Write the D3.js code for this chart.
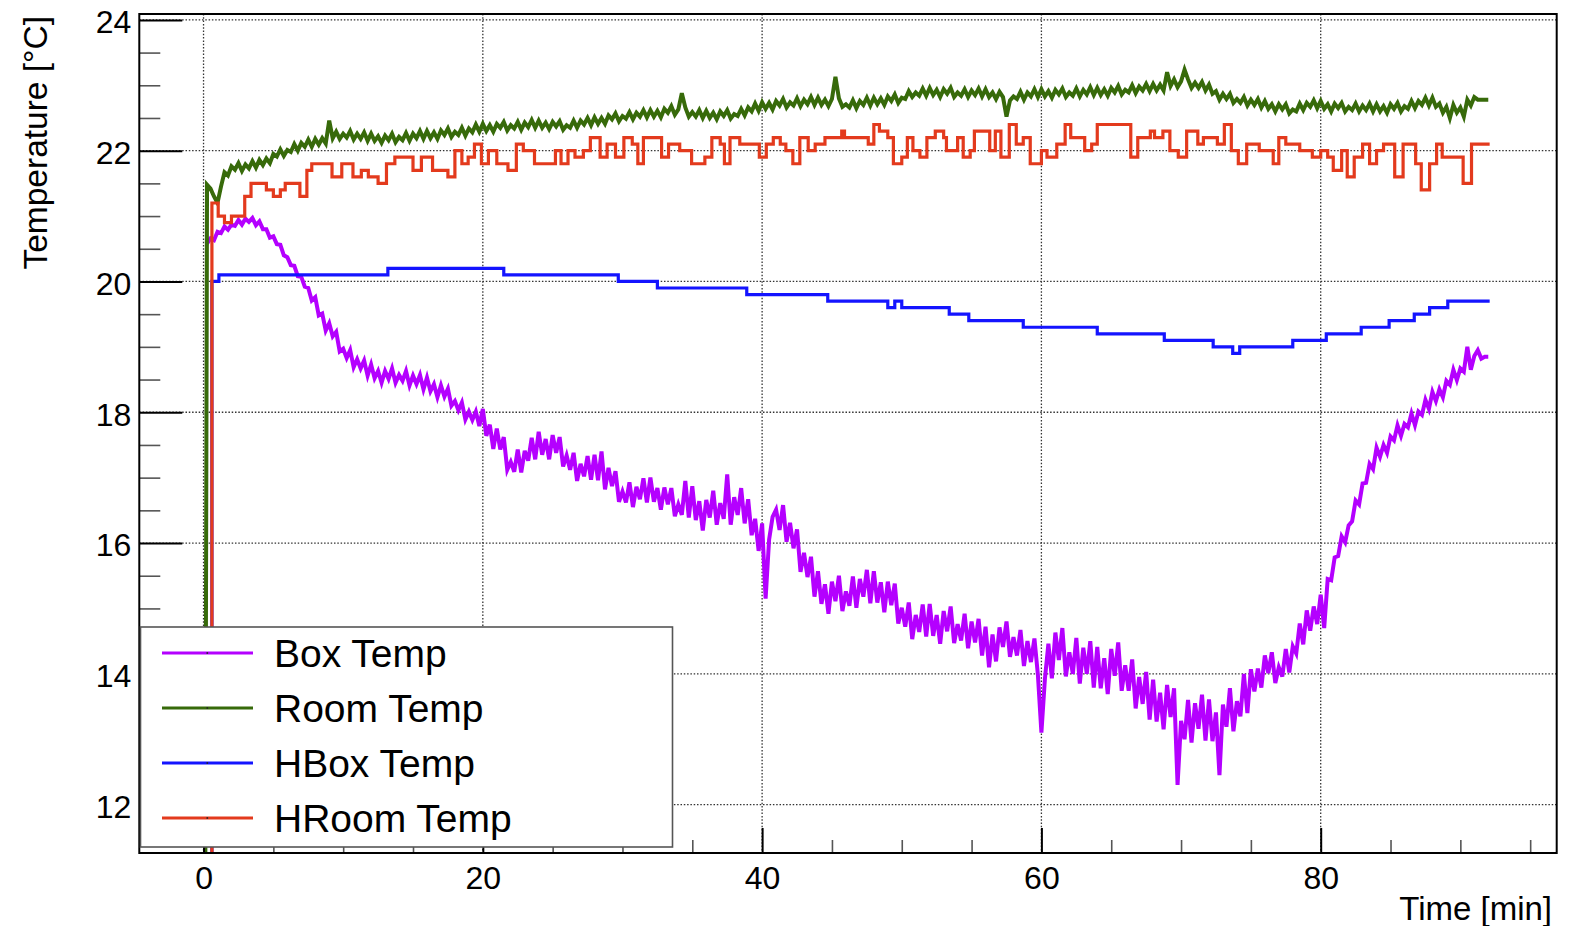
<!DOCTYPE html>
<html>
<head>
<meta charset="utf-8">
<script src="https://cdn.jsdelivr.net/npm/d3@7"></script>
<style>
body { margin: 0; background: #fff; }
</style>
</head>
<body>
<script>
const w = 1580, h = 926;
const font = '"Liberation Sans", Arial, Helvetica, sans-serif';

// sampled every quarter minute, starting at t = 0
const sampleStep = 0.25;

const boxTemp = [null,20.58,20.66,20.63,20.76,20.74,20.84,20.79,20.87,20.85,20.94,20.87,20.96,20.91,20.97,20.86,
20.92,20.8,20.8,20.67,20.69,20.57,20.56,20.4,20.37,20.25,20.24,20.08,20.07,19.92,19.9,19.71,
19.76,19.48,19.51,19.25,19.36,19.16,19.23,18.93,18.97,18.83,18.95,18.69,18.81,18.67,18.79,18.56,
18.73,18.52,18.63,18.45,18.63,18.51,18.67,18.45,18.57,18.48,18.63,18.41,18.56,18.43,18.57,18.35,
18.53,18.32,18.43,18.23,18.41,18.24,18.36,18.1,18.17,18.03,18.15,17.89,18.01,17.88,18.01,17.79,
18.05,17.64,17.81,17.44,17.75,17.43,17.62,17.12,17.24,17.09,17.43,17.08,17.41,17.26,17.61,17.28,
17.7,17.35,17.59,17.28,17.65,17.38,17.62,17.17,17.34,17.12,17.38,16.95,17.21,17.02,17.33,16.97,
17.35,16.96,17.4,16.82,17.15,16.87,17.1,16.63,16.79,16.62,16.93,16.55,16.86,16.67,16.99,16.62,
17.0,16.63,16.84,16.51,16.85,16.59,16.84,16.41,16.59,16.43,16.95,16.39,16.87,16.35,16.64,16.19,
16.66,16.39,16.8,16.28,16.61,16.37,17.05,16.28,16.7,16.43,16.84,16.3,16.67,16.12,16.37,15.88,
16.3,15.15,16.05,16.4,16.51,16.2,16.58,16.02,16.31,15.92,16.21,15.56,15.85,15.48,15.79,15.18,
15.57,15.07,15.37,14.92,15.41,15.11,15.5,14.96,15.26,15.04,15.49,15.01,15.45,15.18,15.59,15.08,
15.57,15.09,15.4,14.94,15.41,15.05,15.38,14.77,15.01,14.72,15.09,14.53,14.9,14.64,15.06,14.57,
15.07,14.58,14.9,14.46,14.96,14.65,15.03,14.47,14.76,14.51,14.92,14.39,14.8,14.48,14.84,14.28,
14.72,14.1,14.6,14.19,14.71,14.41,14.8,14.26,14.56,14.28,14.67,14.12,14.5,14.18,14.54,13.98,
13.1,13.92,14.46,13.93,14.63,14.21,14.7,13.96,14.33,14.0,14.55,13.85,14.4,14.0,14.5,13.79,
14.41,13.78,14.24,13.69,14.38,13.97,14.48,13.74,14.13,13.74,14.22,13.47,13.95,13.54,14.03,13.3,
13.91,13.27,13.71,13.15,13.83,13.34,13.78,12.3,13.28,13.0,13.6,12.95,13.55,13.16,13.68,12.98,
13.61,12.97,13.41,12.45,13.53,13.19,13.78,13.12,13.58,13.35,14.0,13.4,
14.07,13.73,14.08,13.79,14.28,14.01,14.33,13.86,14.1,13.96,14.38,14.02,14.42,14.31,14.77,14.45,
14.97,14.66,15.03,14.76,15.21,14.7,15.45,15.43,15.78,15.8,16.1,16.01,16.27,16.33,16.65,16.59,
16.91,16.92,17.21,17.13,17.46,17.32,17.5,17.38,17.63,17.57,17.8,17.64,17.82,17.77,17.98,17.8,
18.01,17.96,18.19,18.05,18.31,18.17,18.35,18.23,18.48,18.42,18.65,18.49,18.67,18.62,19.0,18.65,
18.86,18.95,18.82,18.85,18.85];

const roomTemp = [0,21.48,21.42,21.3,21.2,21.45,21.67,21.62,21.76,21.71,21.81,21.69,21.79,21.73,21.84,21.74,
21.86,21.78,21.88,21.81,21.95,21.91,22.02,21.92,22.01,21.98,22.1,22.0,22.12,22.06,22.17,22.06,
22.18,22.09,22.19,22.11,22.46,22.19,22.29,22.18,22.26,22.2,22.3,22.17,22.26,22.18,22.28,22.15,
22.26,22.15,22.22,22.12,22.23,22.16,22.26,22.13,22.21,22.16,22.27,22.15,22.26,22.19,22.3,22.18,
22.3,22.19,22.28,22.18,22.31,22.24,22.34,22.21,22.29,22.24,22.35,22.23,22.34,22.28,22.4,22.29,
22.41,22.3,22.39,22.29,22.41,22.35,22.44,22.31,22.39,22.34,22.44,22.32,22.43,22.36,22.47,22.35,
22.46,22.35,22.43,22.33,22.44,22.37,22.45,22.32,22.39,22.35,22.46,22.35,22.46,22.4,22.5,22.39,
22.51,22.41,22.5,22.41,22.54,22.48,22.57,22.45,22.53,22.49,22.59,22.48,22.58,22.52,22.62,22.51,
22.62,22.52,22.61,22.51,22.64,22.58,22.68,22.55,22.63,22.88,22.66,22.52,22.59,22.52,22.62,22.5,
22.61,22.5,22.58,22.48,22.6,22.53,22.62,22.49,22.56,22.53,22.64,22.54,22.66,22.6,22.72,22.61,
22.74,22.64,22.73,22.63,22.76,22.69,22.79,22.66,22.74,22.69,22.8,22.68,22.78,22.71,22.82,22.7,
22.81,22.7,22.78,22.68,22.79,23.13,22.8,22.67,22.71,22.66,22.77,22.65,22.76,22.7,22.81,22.69,
22.81,22.71,22.8,22.7,22.83,22.76,22.86,22.73,22.81,22.79,22.91,22.82,22.89,22.84,22.95,22.84,
22.96,22.85,22.93,22.82,22.94,22.87,22.96,22.82,22.89,22.84,22.94,22.82,22.92,22.85,22.95,22.83,
22.94,22.82,22.89,22.79,22.9,22.82,22.52,22.77,22.83,22.79,22.9,22.78,22.89,22.83,22.94,22.82,
22.94,22.83,22.91,22.81,22.93,22.86,22.95,22.82,22.89,22.84,22.95,22.83,22.93,22.86,22.97,22.85,
22.96,22.85,22.94,22.84,22.96,22.89,22.99,22.86,22.93,22.89,23.0,22.88,22.98,22.92,23.02,22.91,
23.02,22.92,23.01,22.92,23.2,22.99,23.09,22.97,23.06,23.24,23.09,22.96,23.04,22.96,23.05,22.92,
23.01,22.87,22.91,22.78,22.87,22.79,22.87,22.73,22.79,22.73,22.82,22.69,22.78,22.7,22.79,22.66,
22.76,22.64,22.71,22.6,22.71,22.63,22.71,22.57,22.63,22.6,22.72,22.62,22.73,22.67,22.77,22.65,
22.76,22.64,22.71,22.6,22.72,22.65,22.73,22.6,22.67,22.62,22.72,22.6,22.69,22.62,22.72,22.6,
22.71,22.6,22.68,22.58,22.71,22.64,22.73,22.6,22.68,22.64,22.76,22.65,22.76,22.7,22.81,22.69,
22.81,22.67,22.72,22.58,22.67,22.5,22.7,22.58,22.66,22.52,22.78,22.69,22.82,22.78,22.78,22.78,
22.78];

// heater readings change in 0.1 degree steps: time of each change and new value
const hboxTime = [0,0.6,1.1,13.2,21.5,29.7,32.5,38.9,44.7,49.0,49.5,50.0,53.4,54.8,58.7,64.0,68.8,72.3,73.7,74.2,78.0,80.4,82.9,84.9,86.7,87.8,89.1,92.1];
const hboxTemp = [0,20.0,20.1,20.2,20.1,20.0,19.9,19.8,19.7,19.6,19.7,19.6,19.5,19.4,19.3,19.2,19.1,19.0,18.9,19.0,19.1,19.2,19.3,19.4,19.5,19.6,19.7,19.7];

const hroomTime = [0,0.6,1.05,1.5,2.0,2.95,3.4,4.5,5.0,5.5,5.85,6.9,7.4,7.75,9.2,9.9,10.7,11.3,11.8,12.5,
13.1,13.7,15.0,15.6,16.4,17.5,18.0,18.5,18.95,19.4,19.9,20.4,21.0,21.8,22.4,22.9,23.7,25.2,25.6,26.1,
26.6,27.2,27.7,28.4,28.9,29.5,30.1,30.7,31.1,31.5,32.8,33.3,34.1,34.95,35.9,36.4,37.0,37.3,37.7,38.4,
39.8,40.3,40.8,41.3,41.7,42.2,42.7,43.3,43.8,44.5,45.7,45.9,47.6,48.0,48.4,49.0,49.4,50.0,50.4,50.8,
51.3,51.8,52.4,53.0,53.2,54.0,54.4,54.9,55.2,56.3,56.7,57.1,57.7,58.2,58.7,59.2,60.0,60.4,61.1,61.7,
62.1,63.1,63.6,64.0,66.4,66.9,67.8,68.1,68.7,69.2,69.8,70.4,71.2,71.6,72.6,73.1,73.6,74.1,74.7,75.6,
76.6,77.0,77.5,78.5,79.4,80.0,80.5,80.9,81.5,81.9,82.4,83.0,83.5,84.0,84.5,85.3,85.9,86.8,87.2,87.8,
88.3,88.7,90.2,90.8,92.1];
const hroomTemp = [0,21.2,21.0,20.9,21.0,21.3,21.5,21.4,21.3,21.4,21.5,21.3,21.7,21.8,21.6,21.8,21.6,21.7,21.6,21.5,
21.8,21.9,21.7,21.9,21.7,21.6,22.0,21.8,21.9,22.1,21.8,22.0,21.8,21.7,22.1,22.0,21.8,22.0,21.8,22.0,
21.9,22.0,22.2,21.9,22.1,21.9,22.2,22.1,21.8,22.2,21.9,22.1,22.0,21.8,21.9,22.2,22.1,21.8,22.2,22.1,
21.9,22.1,22.2,22.1,22.0,21.8,22.2,22.0,22.1,22.2,22.3,22.2,22.1,22.4,22.3,22.2,21.8,21.9,22.2,22.0,
21.9,22.2,22.3,22.2,22.0,22.2,21.9,22.0,22.3,22.0,22.3,21.9,22.4,22.1,22.2,21.8,22.0,21.9,22.1,22.4,
22.2,22.0,22.1,22.4,21.9,22.2,22.3,22.2,22.3,22.0,21.9,22.3,22.1,22.2,22.1,22.4,22.0,21.8,22.1,22.0,
21.8,22.2,22.1,22.0,21.9,22.0,21.9,21.7,22.0,21.6,21.9,22.1,21.8,22.0,22.1,21.6,22.1,21.8,21.4,21.8,
22.1,21.9,21.5,22.1,22.1];

const xTicks = [0, 20, 40, 60, 80];
const xMinor = [5, 10, 15, 25, 30, 35, 45, 50, 55, 65, 70, 75, 85, 90, 95];
const yTicks = [12, 14, 16, 18, 20, 22, 24];
const yMinor = [11.5, 12.5, 13, 13.5, 14.5, 15, 15.5, 16.5, 17, 17.5, 18.5, 19, 19.5, 20.5, 21, 21.5, 22.5, 23, 23.5];

const seriesNames = ['Box Temp', 'Room Temp', 'HBox Temp', 'HRoom Temp'];
const seriesColors = ['#b400ff', '#376a0a', '#1414ff', '#e33a1d'];

const svg = d3.select('body').append('svg')
  .attr('width', w)
  .attr('height', h)
  .style('background', '#fff');

const x = d3.scaleLinear().domain([-4.6, 96.9]).range([139.3, 1556.7]);
const y = d3.scaleLinear().domain([11.26, 24.09]).range([853, 14]);
const [fLeft, fRight] = x.range();
const [fBottom, fTop] = y.range();

// dotted grid
const grid = svg.append('g')
  .attr('stroke', '#333')
  .attr('stroke-width', 1.3)
  .attr('stroke-dasharray', '1.5,1.8');
grid.selectAll('.gx').data(xTicks).join('line')
  .attr('x1', d => x(d)).attr('x2', d => x(d))
  .attr('y1', fTop).attr('y2', fBottom);
grid.selectAll('.gy').data(yTicks).join('line')
  .attr('x1', fLeft).attr('x2', fRight)
  .attr('y1', d => y(d)).attr('y2', d => y(d));

// data
svg.append('clipPath').attr('id', 'frame')
  .append('rect')
  .attr('x', fLeft).attr('y', fTop)
  .attr('width', fRight - fLeft).attr('height', fBottom - fTop);

const sampled = arr => arr.map((v, i) => ({t: i * sampleStep, v: v}));
const stepped = (ts, vs) => ts.map((t, i) => ({t: t, v: vs[i]}));

const series = [
  {pts: sampled(boxTemp), curve: d3.curveLinear, width: 4},
  {pts: sampled(roomTemp), curve: d3.curveLinear, width: 4},
  {pts: stepped(hboxTime, hboxTemp), curve: d3.curveStepAfter, width: 3.2},
  {pts: stepped(hroomTime, hroomTemp), curve: d3.curveStepAfter, width: 3.2}
];

const plot = svg.append('g').attr('clip-path', 'url(#frame)');
series.forEach((s, i) => {
  const lineFun = d3.line()
    .defined(d => d.v != null)
    .x(d => x(d.t))
    .y(d => y(d.v))
    .curve(s.curve);
  plot.append('path')
    .attr('d', lineFun(s.pts))
    .attr('fill', 'none')
    .attr('stroke', seriesColors[i])
    .attr('stroke-width', s.width)
    .attr('stroke-linejoin', 'miter');
});

// axes, ticks pointing into the frame
const yAxis = svg.append('g')
  .attr('transform', `translate(${fLeft},0)`)
  .call(d3.axisLeft(y).tickValues(yTicks).tickSize(-43).tickPadding(8).tickFormat(d3.format('d')));
const yAxisMinor = svg.append('g')
  .attr('transform', `translate(${fLeft},0)`)
  .call(d3.axisLeft(y).tickValues(yMinor).tickSize(-21).tickFormat(''));
const xAxis = svg.append('g')
  .attr('transform', `translate(0,${fBottom})`)
  .call(d3.axisBottom(x).tickValues(xTicks).tickSize(-25).tickPadding(13).tickFormat(d3.format('d')));
const xAxisMinor = svg.append('g')
  .attr('transform', `translate(0,${fBottom})`)
  .call(d3.axisBottom(x).tickValues(xMinor).tickSize(-13).tickFormat(''));

[yAxis, yAxisMinor, xAxis, xAxisMinor].forEach(g => {
  g.select('.domain').remove();
  g.attr('font-family', font).attr('font-size', 32);
  g.selectAll('text').attr('fill', '#000');
});
yAxis.selectAll('line').attr('stroke', '#000').attr('stroke-width', 2);
xAxis.selectAll('line').attr('stroke', '#000').attr('stroke-width', 2);
yAxisMinor.selectAll('line').attr('stroke', '#555').attr('stroke-width', 1.6);
xAxisMinor.selectAll('line').attr('stroke', '#555').attr('stroke-width', 1.6);
yAxis.selectAll('text').attr('dy', '0.4em');

svg.append('rect')
  .attr('x', fLeft).attr('y', fTop)
  .attr('width', fRight - fLeft).attr('height', fBottom - fTop)
  .attr('fill', 'none')
  .attr('stroke', '#000')
  .attr('stroke-width', 2);

// axis titles
svg.append('text')
  .text('Time [min]')
  .attr('x', 1552).attr('y', 920)
  .attr('text-anchor', 'end')
  .attr('font-family', font)
  .attr('font-size', 33);

svg.append('text')
  .text('Temperature [°C]')
  .attr('transform', 'translate(47,16) rotate(-90)')
  .attr('text-anchor', 'end')
  .attr('font-family', font)
  .attr('font-size', 33.5);

// legend
const legend = svg.append('g');
legend.append('rect')
  .attr('x', 140.5).attr('y', 627)
  .attr('width', 532).attr('height', 220)
  .attr('fill', '#fff')
  .attr('stroke', '#555')
  .attr('stroke-width', 1.6);

const entries = legend.selectAll('.entry').data(seriesNames).join('g')
  .attr('transform', (d, i) => `translate(0,${653 + i * 55})`);
entries.append('line')
  .attr('x1', 162).attr('x2', 253)
  .attr('stroke', (d, i) => seriesColors[i])
  .attr('stroke-width', 3.2);
entries.append('rect')
  .attr('x', 206.5).attr('y', -0.8).attr('width', 1.6).attr('height', 1.6)
  .attr('fill', '#222');
entries.append('text')
  .text(d => d)
  .attr('x', 274).attr('dy', '0.36em')
  .attr('font-family', font)
  .attr('font-size', 39)
  .attr('fill', '#000');
</script>
</body>
</html>
